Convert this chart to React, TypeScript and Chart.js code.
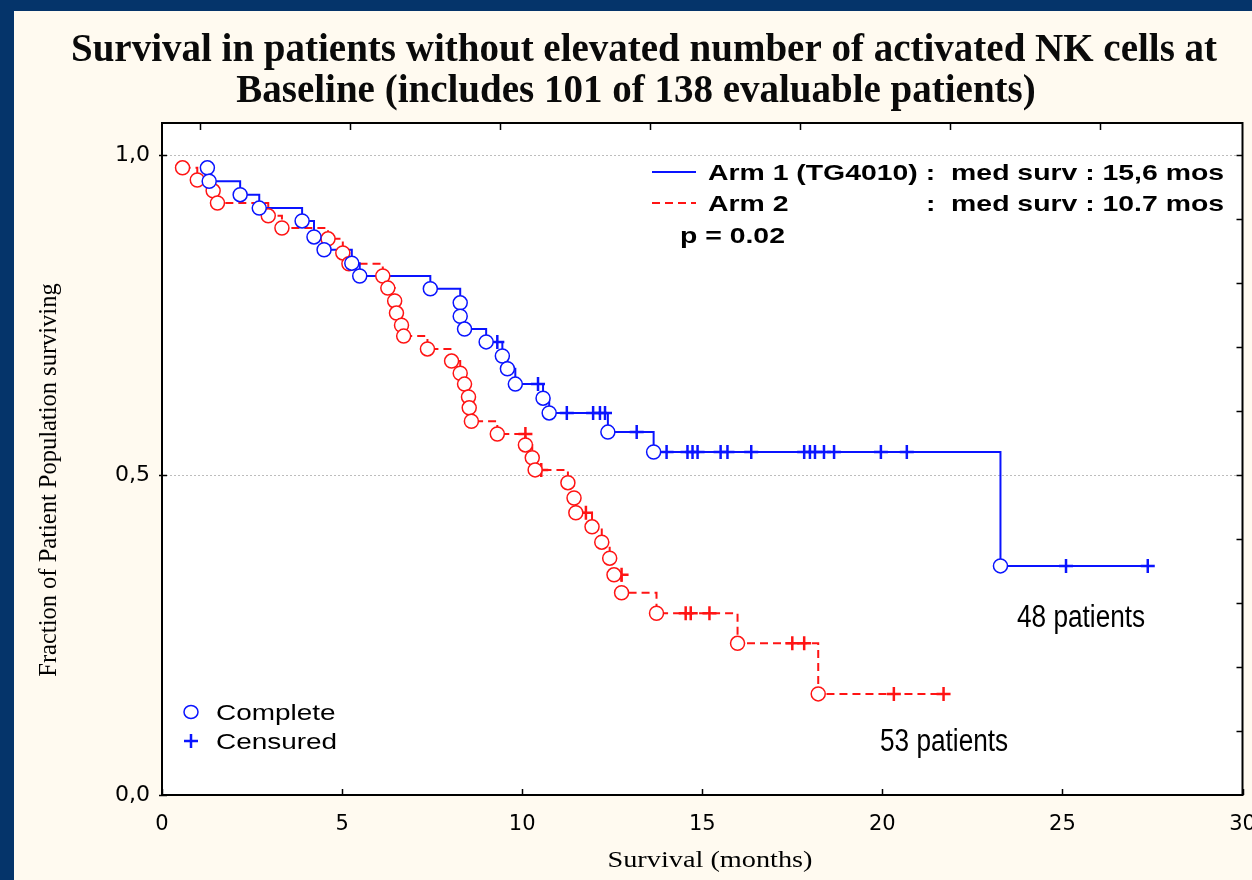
import React, { useEffect, useRef } from "react";
import { Chart, registerables } from "chart.js";

Chart.register(...registerables);

// ---------- data ----------
const titleLines = [
  "Survival in patients without elevated number of activated NK cells at",
  "Baseline (includes 101 of 138 evaluable patients)",
];
const xTickValues = [0, 5, 10, 15, 20, 25, 30];
const yTickValues = [0, 0.5, 1.0];
const yTickLabels = ["0,0", "0,5", "1,0"];
const yMinorTickValues = [0.1, 0.2, 0.3, 0.4, 0.5, 0.6, 0.7, 0.8, 0.9, 1.0];

// Arm 1 (TG4010): events (complete) and censored times, in months
const arm1EventMonths = [1.26, 1.31, 2.17, 2.7, 3.89, 4.22, 4.5, 5.27, 5.49, 7.45, 8.28, 8.28, 8.4, 9.0, 9.45, 9.59, 9.81, 10.58, 10.75, 12.38, 13.65, 23.28];
const arm1EventSurvival = [0.98, 0.959, 0.938, 0.917, 0.897, 0.872, 0.852, 0.831, 0.811, 0.791, 0.769, 0.748, 0.728, 0.708, 0.686, 0.666, 0.642, 0.62, 0.597, 0.567, 0.536, 0.358];
const arm1CensorMonths = [9.31, 10.44, 11.24, 11.97, 12.16, 12.3, 13.18, 14.01, 14.59, 14.73, 14.87, 15.51, 15.7, 16.36, 17.83, 17.99, 18.13, 18.38, 18.66, 19.96, 20.68, 25.1, 27.37];

// Arm 2
const arm2EventMonths = [0.57, 0.98, 1.42, 1.54, 2.95, 3.33, 4.61, 5.02, 5.19, 6.13, 6.27, 6.46, 6.51, 6.65, 6.71, 7.37, 8.04, 8.28, 8.4, 8.51, 8.53, 8.59, 9.31, 10.09, 10.28, 10.36, 11.27, 11.44, 11.49, 11.94, 12.21, 12.43, 12.55, 12.76, 13.73, 15.98, 18.22];
const arm2EventSurvival = [0.98, 0.961, 0.944, 0.925, 0.905, 0.886, 0.869, 0.847, 0.83, 0.811, 0.792, 0.772, 0.753, 0.734, 0.717, 0.697, 0.678, 0.659, 0.642, 0.622, 0.605, 0.584, 0.564, 0.547, 0.527, 0.508, 0.488, 0.464, 0.441, 0.419, 0.395, 0.37, 0.344, 0.316, 0.284, 0.237, 0.158];
const arm2CensorMonths = [10.09, 10.53, 11.77, 12.76, 14.54, 14.68, 15.2, 17.5, 17.83, 20.32, 21.7];

const legendRows = [
  { name: "Arm 1 (TG4010) :", stat: "med surv : 15,6 mos" },
  { name: "Arm 2", stat: ":  med surv : 10.7 mos" },
];
const pValueText = "p = 0.02";
const markerLegend = ["Complete", "Censured"];
const patientLabels = ["48 patients", "53 patients"];

// ---------- styles ----------
const W = 1252;
const H = 880;
const NAVY = "#05346a";
const CREAM = "#fffaf0";
const BLUE = "#0a14ff";
const RED = "#ff1414";
const DASH = [8, 5];

type Pt = { x: number; y: number };

function levelBefore(times: number[], surv: number[], t: number) {
  let s = 1;
  for (let i = 0; i < times.length; i++) if (times[i] < t) s = surv[i];
  return s;
}

function buildArm(evT: number[], evS: number[], cT: number[]) {
  const events: Pt[] = evT.map((t, i) => ({ x: t, y: evS[i] }));
  const censors: Pt[] = cT.map((t) => ({ x: t, y: levelBefore(evT, evS, t) }));
  const all = [
    ...censors.map((p) => ({ ...p, k: 0 })),
    ...events.map((p) => ({ ...p, k: 1 })),
  ].sort((a, b) => a.x - b.x || a.k - b.k);
  const line: Pt[] = all.map((p) => ({ x: p.x, y: p.y }));
  return { events, censors, line };
}

const arm1 = buildArm(arm1EventMonths, arm1EventSurvival, arm1CensorMonths);
const arm2 = buildArm(arm2EventMonths, arm2EventSurvival, arm2CensorMonths);

function drawText(
  ctx: CanvasRenderingContext2D,
  s: string,
  x: number,
  y: number,
  font: string,
  align: "left" | "center" | "right",
  sx = 1,
  color = "#000"
) {
  ctx.save();
  ctx.font = font;
  ctx.fillStyle = color;
  ctx.textBaseline = "alphabetic";
  ctx.textAlign = "left";
  const w = ctx.measureText(s).width * sx;
  const left = align === "left" ? x : align === "center" ? x - w / 2 : x - w;
  ctx.translate(left, y);
  ctx.scale(sx, 1);
  ctx.fillText(s, 0, 0);
  ctx.restore();
}

const decorPlugin = {
  id: "decor",
  beforeDraw(chart: any) {
    const { ctx, chartArea: a } = chart;
    ctx.save();
    ctx.fillStyle = NAVY;
    ctx.fillRect(0, 0, W, H);
    ctx.fillStyle = CREAM;
    ctx.fillRect(14, 11, W - 14, H - 11);
    ctx.fillStyle = "#ffffff";
    ctx.fillRect(a.left, a.top, a.right - a.left, a.bottom - a.top);
    ctx.restore();
  },
  afterDraw(chart: any) {
    const { ctx, chartArea: a, scales } = chart;
    const xs = scales.x;
    const ys = scales.y;
    ctx.save();
    // frame
    ctx.strokeStyle = "#000";
    ctx.lineWidth = 2;
    ctx.strokeRect(a.left, a.top, a.right - a.left, a.bottom - a.top);
    ctx.lineWidth = 1.5;
    ctx.beginPath();
    // bottom inward ticks
    xTickValues.forEach((v) => {
      const px = Math.round(xs.getPixelForValue(v)) + 0.5;
      ctx.moveTo(px, a.bottom);
      ctx.lineTo(px, a.bottom - 6);
    });
    // left ticks
    yTickValues.forEach((v) => {
      const py = Math.round(ys.getPixelForValue(v)) + 0.5;
      ctx.moveTo(a.left - 3, py);
      ctx.lineTo(a.left + 5, py);
    });
    // right inward minor ticks
    yMinorTickValues.forEach((v) => {
      const py = Math.round(ys.getPixelForValue(v)) + 0.5;
      ctx.moveTo(a.right, py);
      ctx.lineTo(a.right - 6, py);
    });
    // top inward ticks
    for (let i = 0; i < 7; i++) {
      const px = a.left + 38.5 + i * 150;
      ctx.moveTo(px, a.top);
      ctx.lineTo(px, a.top + 7);
    }
    ctx.stroke();

    // title
    drawText(ctx, titleLines[0], 644, 61, "bold 39px 'Liberation Serif', 'Times New Roman', serif", "center", 1, "#0a0a0a");
    drawText(ctx, titleLines[1], 636, 102, "bold 39px 'Liberation Serif', 'Times New Roman', serif", "center", 1, "#0a0a0a");

    // axis titles
    drawText(ctx, "Survival (months)", 710, 867, "23px 'Liberation Serif', 'Times New Roman', serif", "center", 1.23);
    ctx.save();
    ctx.translate(56, 480);
    ctx.rotate(-Math.PI / 2);
    drawText(ctx, "Fraction of Patient Population surviving", 0, 0, "24.5px 'Liberation Serif', 'Times New Roman', serif", "center", 1);
    ctx.restore();

    // top-right legend
    const lf = "bold 22px 'Liberation Sans', Arial, sans-serif";
    const lsx = 1.29;
    ctx.lineWidth = 2;
    ctx.strokeStyle = BLUE;
    ctx.beginPath();
    ctx.moveTo(652, 172);
    ctx.lineTo(696, 172);
    ctx.stroke();
    ctx.strokeStyle = RED;
    ctx.setLineDash(DASH);
    ctx.beginPath();
    ctx.moveTo(652, 203);
    ctx.lineTo(696, 203);
    ctx.stroke();
    ctx.setLineDash([]);
    drawText(ctx, legendRows[0].name, 708, 180, lf, "left", lsx);
    drawText(ctx, legendRows[0].stat, 1224, 180, lf, "right", lsx);
    drawText(ctx, legendRows[1].name, 708, 211, lf, "left", lsx);
    drawText(ctx, legendRows[1].stat, 1224, 211, lf, "right", lsx);
    drawText(ctx, pValueText, 680, 243, lf, "left", lsx);

    // bottom-left marker legend
    ctx.strokeStyle = BLUE;
    ctx.lineWidth = 1.5;
    ctx.beginPath();
    ctx.ellipse(191, 712, 7, 6.5, 0, 0, Math.PI * 2);
    ctx.stroke();
    ctx.lineWidth = 2.5;
    ctx.beginPath();
    ctx.moveTo(184, 741);
    ctx.lineTo(198, 741);
    ctx.moveTo(191, 734);
    ctx.lineTo(191, 748);
    ctx.stroke();
    const mf = "22px 'Liberation Sans', Arial, sans-serif";
    drawText(ctx, markerLegend[0], 216, 720, mf, "left", 1.27);
    drawText(ctx, markerLegend[1], 216, 749, mf, "left", 1.27);

    // patient count labels
    const pf = "31px 'Liberation Sans', Arial, sans-serif";
    drawText(ctx, patientLabels[0], 1017, 627, pf, "left", 0.845);
    drawText(ctx, patientLabels[1], 880, 751, pf, "left", 0.845);
    ctx.restore();
  },
};

export default function App() {
  const ref = useRef<HTMLCanvasElement | null>(null);

  useEffect(() => {
    if (!ref.current) return;
    const chart = new Chart(ref.current, {
      type: "line",
      data: {
        datasets: [
          {
            label: "Arm 1 complete",
            data: arm1.events,
            showLine: false,
            pointStyle: "circle",
            pointRadius: 7,
            pointBorderWidth: 1.5,
            pointBorderColor: BLUE,
            pointBackgroundColor: "#ffffff",
          },
          {
            label: "Arm 1 censored",
            data: arm1.censors,
            showLine: false,
            pointStyle: "cross",
            pointRadius: 7,
            pointBorderWidth: 2.5,
            pointBorderColor: BLUE,
          },
          {
            label: "Arm 2 complete",
            data: arm2.events,
            showLine: false,
            pointStyle: "circle",
            pointRadius: 7,
            pointBorderWidth: 1.5,
            pointBorderColor: RED,
            pointBackgroundColor: "#ffffff",
          },
          {
            label: "Arm 2 censored",
            data: arm2.censors,
            showLine: false,
            pointStyle: "cross",
            pointRadius: 7,
            pointBorderWidth: 2.5,
            pointBorderColor: RED,
          },
          {
            label: "Arm 1 (TG4010)",
            data: arm1.line,
            stepped: true,
            borderColor: BLUE,
            borderWidth: 2,
            pointRadius: 0,
            fill: false,
          },
          {
            label: "Arm 2",
            data: arm2.line,
            stepped: true,
            borderColor: RED,
            borderWidth: 2,
            borderDash: DASH,
            pointRadius: 0,
            fill: false,
          },
        ],
      },
      options: {
        responsive: false,
        animation: false,
        devicePixelRatio: 1,
        parsing: false as any,
        layout: { padding: { top: 123, right: 5, left: 0, bottom: 0 } },
        plugins: {
          legend: { display: false },
          tooltip: { enabled: false },
          title: { display: false },
        },
        scales: {
          x: {
            type: "linear",
            min: 0,
            max: 30,
            afterBuildTicks: (s: any) => {
              s.ticks = xTickValues.map((v) => ({ value: v }));
            },
            afterFit: (s: any) => {
              s.height = 85;
              s.paddingLeft = 0;
              s.paddingRight = 0;
            },
            ticks: {
              autoSkip: false,
              maxRotation: 0,
              padding: 17,
              color: "#000",
              font: { family: "'DejaVu Sans', sans-serif", size: 21 },
            },
            grid: { display: false, drawTicks: false, tickLength: 0 },
            border: { display: false },
          },
          y: {
            type: "linear",
            min: 0,
            max: 1.05,
            afterBuildTicks: (s: any) => {
              s.ticks = yTickValues.map((v) => ({ value: v }));
            },
            afterFit: (s: any) => {
              s.width = 162;
              s.paddingTop = 0;
              s.paddingBottom = 0;
            },
            ticks: {
              padding: 12,
              color: "#000",
              font: { family: "'DejaVu Sans', sans-serif", size: 22 },
              callback: (v: any) => {
                const i = yTickValues.indexOf(Number(v));
                return i >= 0 ? yTickLabels[i] : "";
              },
            },
            grid: {
              drawTicks: false,
              tickLength: 0,
              lineWidth: 1,
              color: (c: any) => (c.tick && c.tick.value > 0 ? "#bdbdbd" : "rgba(0,0,0,0)"),
            } as any,
            border: { display: false, dash: [2, 2] } as any,
          },
        },
      },
      plugins: [decorPlugin],
    } as any);
    return () => chart.destroy();
  }, []);

  return (
    <div style={{ position: "fixed", left: 0, top: 0, width: W, height: H }}>
      <canvas ref={ref} width={W} height={H} style={{ display: "block", width: W, height: H }} />
    </div>
  );
}
